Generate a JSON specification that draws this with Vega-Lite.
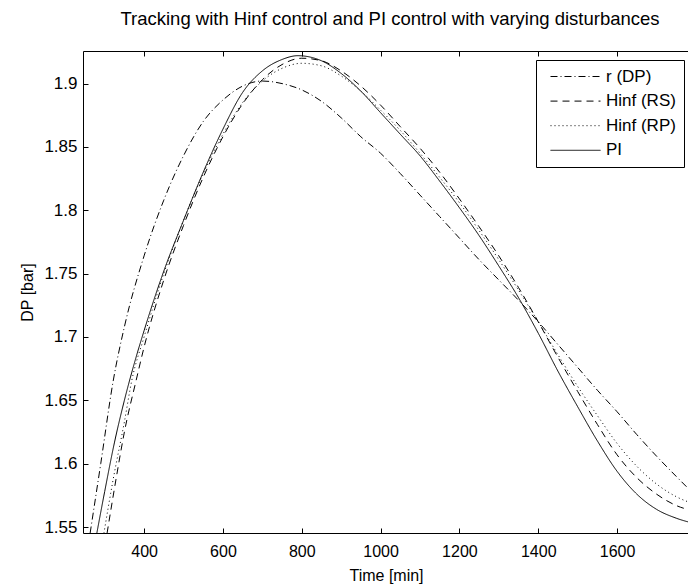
{
  "$schema": "https://vega.github.io/schema/vega-lite/v6.json",
  "width": 606,
  "height": 482,
  "autosize": {"type": "none"},
  "padding": {"left": 83, "top": 51, "right": 0, "bottom": 52},
  "background": "white",
  "config": {
    "view": {"stroke": "black", "strokeWidth": 1},
    "font": "Liberation Sans",
    "axis": {"labelFont": "Liberation Sans", "titleFont": "Liberation Sans", "labelColor": "black", "titleColor": "black", "domainColor": "black", "tickColor": "black", "grid": false, "titleFontWeight": "normal"}
  },
  "title": {"text": "Tracking with Hinf control and PI control with varying disturbances", "fontSize": 18.5, "fontWeight": "normal", "font": "Liberation Sans", "color": "black", "offset": 22, "anchor": "middle", "dx": 4},
  "resolve": {"axis": {"x": "independent"}},
  "data": {"values": [
    {"s": "r (DP)", "t": 263, "y": 1.545}, {"s": "r (DP)", "t": 290, "y": 1.600}, {"s": "r (DP)", "t": 322, "y": 1.666}, {"s": "r (DP)", "t": 350, "y": 1.708}, {"s": "r (DP)", "t": 400, "y": 1.764}, {"s": "r (DP)", "t": 450, "y": 1.808}, {"s": "r (DP)", "t": 500, "y": 1.843}, {"s": "r (DP)", "t": 550, "y": 1.870}, {"s": "r (DP)", "t": 600, "y": 1.887}, {"s": "r (DP)", "t": 650, "y": 1.898}, {"s": "r (DP)", "t": 700, "y": 1.902}, {"s": "r (DP)", "t": 750, "y": 1.900}, {"s": "r (DP)", "t": 800, "y": 1.895}, {"s": "r (DP)", "t": 850, "y": 1.886}, {"s": "r (DP)", "t": 900, "y": 1.873}, {"s": "r (DP)", "t": 950, "y": 1.858}, {"s": "r (DP)", "t": 1000, "y": 1.845}, {"s": "r (DP)", "t": 1050, "y": 1.829}, {"s": "r (DP)", "t": 1100, "y": 1.812}, {"s": "r (DP)", "t": 1150, "y": 1.795}, {"s": "r (DP)", "t": 1200, "y": 1.778}, {"s": "r (DP)", "t": 1250, "y": 1.761}, {"s": "r (DP)", "t": 1300, "y": 1.745}, {"s": "r (DP)", "t": 1350, "y": 1.729}, {"s": "r (DP)", "t": 1400, "y": 1.712}, {"s": "r (DP)", "t": 1450, "y": 1.694}, {"s": "r (DP)", "t": 1500, "y": 1.676}, {"s": "r (DP)", "t": 1550, "y": 1.658}, {"s": "r (DP)", "t": 1600, "y": 1.641}, {"s": "r (DP)", "t": 1650, "y": 1.623}, {"s": "r (DP)", "t": 1700, "y": 1.606}, {"s": "r (DP)", "t": 1750, "y": 1.590}, {"s": "r (DP)", "t": 1808, "y": 1.572},

    {"s": "Hinf (RS)", "t": 306, "y": 1.545}, {"s": "Hinf (RS)", "t": 330, "y": 1.590}, {"s": "Hinf (RS)", "t": 350, "y": 1.625}, {"s": "Hinf (RS)", "t": 380, "y": 1.666}, {"s": "Hinf (RS)", "t": 400, "y": 1.692}, {"s": "Hinf (RS)", "t": 450, "y": 1.745}, {"s": "Hinf (RS)", "t": 500, "y": 1.788}, {"s": "Hinf (RS)", "t": 550, "y": 1.826}, {"s": "Hinf (RS)", "t": 600, "y": 1.858}, {"s": "Hinf (RS)", "t": 650, "y": 1.884}, {"s": "Hinf (RS)", "t": 700, "y": 1.903}, {"s": "Hinf (RS)", "t": 750, "y": 1.915}, {"s": "Hinf (RS)", "t": 800, "y": 1.920}, {"s": "Hinf (RS)", "t": 850, "y": 1.918}, {"s": "Hinf (RS)", "t": 900, "y": 1.910}, {"s": "Hinf (RS)", "t": 950, "y": 1.898}, {"s": "Hinf (RS)", "t": 1000, "y": 1.883}, {"s": "Hinf (RS)", "t": 1050, "y": 1.866}, {"s": "Hinf (RS)", "t": 1100, "y": 1.849}, {"s": "Hinf (RS)", "t": 1150, "y": 1.830}, {"s": "Hinf (RS)", "t": 1200, "y": 1.809}, {"s": "Hinf (RS)", "t": 1250, "y": 1.787}, {"s": "Hinf (RS)", "t": 1300, "y": 1.764}, {"s": "Hinf (RS)", "t": 1350, "y": 1.739}, {"s": "Hinf (RS)", "t": 1400, "y": 1.712}, {"s": "Hinf (RS)", "t": 1450, "y": 1.684}, {"s": "Hinf (RS)", "t": 1500, "y": 1.657}, {"s": "Hinf (RS)", "t": 1550, "y": 1.631}, {"s": "Hinf (RS)", "t": 1600, "y": 1.607}, {"s": "Hinf (RS)", "t": 1650, "y": 1.589}, {"s": "Hinf (RS)", "t": 1700, "y": 1.576}, {"s": "Hinf (RS)", "t": 1750, "y": 1.567}, {"s": "Hinf (RS)", "t": 1808, "y": 1.562},

    {"s": "Hinf (RP)", "t": 298, "y": 1.545}, {"s": "Hinf (RP)", "t": 320, "y": 1.585}, {"s": "Hinf (RP)", "t": 350, "y": 1.633}, {"s": "Hinf (RP)", "t": 369, "y": 1.666}, {"s": "Hinf (RP)", "t": 400, "y": 1.700}, {"s": "Hinf (RP)", "t": 450, "y": 1.750}, {"s": "Hinf (RP)", "t": 500, "y": 1.792}, {"s": "Hinf (RP)", "t": 550, "y": 1.829}, {"s": "Hinf (RP)", "t": 600, "y": 1.860}, {"s": "Hinf (RP)", "t": 650, "y": 1.885}, {"s": "Hinf (RP)", "t": 700, "y": 1.902}, {"s": "Hinf (RP)", "t": 750, "y": 1.912}, {"s": "Hinf (RP)", "t": 800, "y": 1.916}, {"s": "Hinf (RP)", "t": 850, "y": 1.914}, {"s": "Hinf (RP)", "t": 900, "y": 1.906}, {"s": "Hinf (RP)", "t": 950, "y": 1.894}, {"s": "Hinf (RP)", "t": 1000, "y": 1.879}, {"s": "Hinf (RP)", "t": 1050, "y": 1.863}, {"s": "Hinf (RP)", "t": 1100, "y": 1.845}, {"s": "Hinf (RP)", "t": 1150, "y": 1.826}, {"s": "Hinf (RP)", "t": 1200, "y": 1.806}, {"s": "Hinf (RP)", "t": 1250, "y": 1.784}, {"s": "Hinf (RP)", "t": 1300, "y": 1.761}, {"s": "Hinf (RP)", "t": 1350, "y": 1.737}, {"s": "Hinf (RP)", "t": 1400, "y": 1.712}, {"s": "Hinf (RP)", "t": 1450, "y": 1.686}, {"s": "Hinf (RP)", "t": 1500, "y": 1.661}, {"s": "Hinf (RP)", "t": 1550, "y": 1.638}, {"s": "Hinf (RP)", "t": 1600, "y": 1.616}, {"s": "Hinf (RP)", "t": 1650, "y": 1.598}, {"s": "Hinf (RP)", "t": 1700, "y": 1.584}, {"s": "Hinf (RP)", "t": 1750, "y": 1.574}, {"s": "Hinf (RP)", "t": 1808, "y": 1.567},

    {"s": "PI", "t": 280, "y": 1.545}, {"s": "PI", "t": 300, "y": 1.578}, {"s": "PI", "t": 325, "y": 1.617}, {"s": "PI", "t": 350, "y": 1.650}, {"s": "PI", "t": 375, "y": 1.679}, {"s": "PI", "t": 400, "y": 1.705}, {"s": "PI", "t": 450, "y": 1.752}, {"s": "PI", "t": 500, "y": 1.792}, {"s": "PI", "t": 550, "y": 1.830}, {"s": "PI", "t": 600, "y": 1.864}, {"s": "PI", "t": 650, "y": 1.893}, {"s": "PI", "t": 700, "y": 1.910}, {"s": "PI", "t": 750, "y": 1.919}, {"s": "PI", "t": 790, "y": 1.922}, {"s": "PI", "t": 850, "y": 1.918}, {"s": "PI", "t": 900, "y": 1.908}, {"s": "PI", "t": 950, "y": 1.894}, {"s": "PI", "t": 1000, "y": 1.877}, {"s": "PI", "t": 1050, "y": 1.860}, {"s": "PI", "t": 1100, "y": 1.843}, {"s": "PI", "t": 1150, "y": 1.823}, {"s": "PI", "t": 1200, "y": 1.802}, {"s": "PI", "t": 1250, "y": 1.780}, {"s": "PI", "t": 1300, "y": 1.756}, {"s": "PI", "t": 1350, "y": 1.731}, {"s": "PI", "t": 1400, "y": 1.703}, {"s": "PI", "t": 1450, "y": 1.673}, {"s": "PI", "t": 1500, "y": 1.645}, {"s": "PI", "t": 1550, "y": 1.618}, {"s": "PI", "t": 1600, "y": 1.594}, {"s": "PI", "t": 1650, "y": 1.576}, {"s": "PI", "t": 1700, "y": 1.564}, {"s": "PI", "t": 1750, "y": 1.557}, {"s": "PI", "t": 1808, "y": 1.552}
  ]},
  "layer": [
    {
      "mark": {"type": "line", "clip": true, "color": "black", "strokeWidth": 1, "interpolate": "monotone"},
      "encoding": {
        "x": {"field": "t", "type": "quantitative", "scale": {"domain": [245, 1782.5], "nice": false, "zero": false},
          "axis": {"orient": "bottom", "offset": -5, "domain": false, "title": "Time [min]", "titleFontSize": 16, "labelFontSize": 16, "values": [400, 600, 800, 1000, 1200, 1400, 1600], "format": "d", "tickSize": 5, "labelPadding": 10, "titlePadding": 8}},
        "y": {"field": "y", "type": "quantitative", "scale": {"domain": [1.5453, 1.9257], "nice": false, "zero": false},
          "axis": {"orient": "left", "offset": -5, "domain": false, "title": "DP [bar]", "titleFontSize": 16, "labelFontSize": 17, "values": [1.55, 1.6, 1.65, 1.7, 1.75, 1.8, 1.85, 1.9], "format": ".3~g", "tickSize": 5, "labelPadding": 6, "titlePadding": 8}},
        "strokeDash": {"field": "s", "type": "nominal",
          "scale": {"domain": ["r (DP)", "Hinf (RS)", "Hinf (RP)", "PI"], "range": [[7, 3, 1, 3], [7, 5], [1, 3], [1, 0]]},
          "legend": {"title": null, "orient": "none", "legendX": 453, "legendY": 9, "symbolType": "M-5,0H5", "symbolSize": 100, "symbolOffset": 23, "symbolStrokeWidth": 1, "symbolStrokeColor": "black", "labelFontSize": 17, "labelFont": "Liberation Sans", "labelColor": "black", "strokeColor": "black", "fillColor": "white", "padding": 8, "rowPadding": 6.6, "labelOffset": 22}}
      }
    },
    {
      "mark": {"type": "point", "opacity": 0},
      "encoding": {
        "x": {"field": "t", "type": "quantitative",
          "axis": {"orient": "top", "offset": -5, "domain": false, "title": null, "labels": false, "values": [400, 600, 800, 1000, 1200, 1400, 1600], "tickSize": 5}}
      }
    }
  ]
}
